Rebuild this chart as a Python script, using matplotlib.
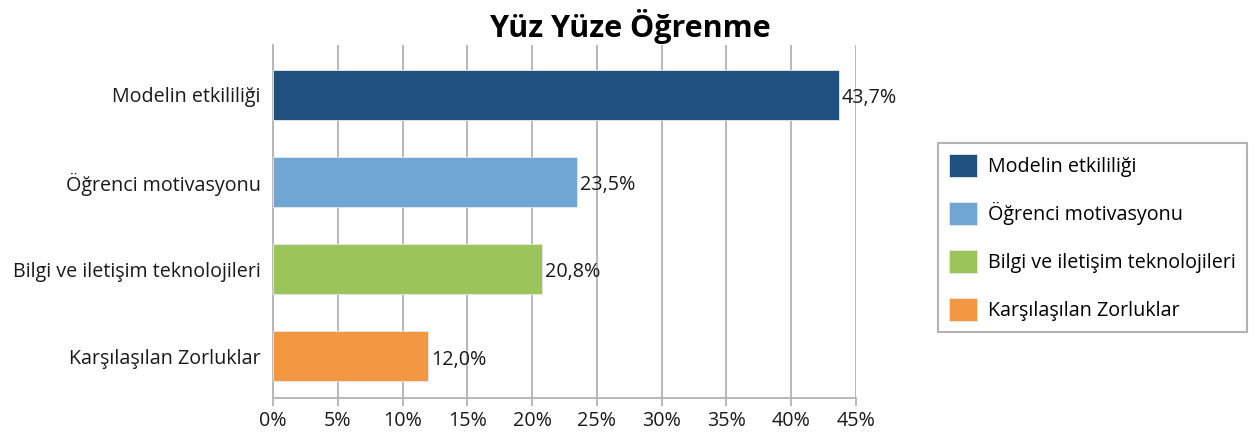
import matplotlib
matplotlib.use("Agg")
import matplotlib.pyplot as plt
from matplotlib.patches import Patch

plt.rcParams['font.family'] = ['Open Sans', 'DejaVu Sans']

categories = ["Modelin etkililiği", "Öğrenci motivasyonu",
              "Bilgi ve iletişim teknolojileri", "Karşılaşılan Zorluklar"]
values = [43.7, 23.5, 20.8, 12.0]
value_labels = ["43,7%", "23,5%", "20,8%", "12,0%"]
colors = ["#1F5180", "#6FA6D4", "#9BC55A", "#F39842"]
xticks = [0, 5, 10, 15, 20, 25, 30, 35, 40, 45]
xtick_labels = [f"{t}%" for t in xticks]
title = "Yüz Yüze Öğrenme"

FS = 14.2

fig = plt.figure(figsize=(12.56, 4.32), dpi=100)
ax = fig.add_axes([273/1256, 1-398/432, (856-273)/1256, (398-45)/432])

ypos = list(range(len(categories)))
ax.barh(ypos, values, height=0.575, color=colors, edgecolor="#e8e8e8", linewidth=0.6, zorder=3)
for y, v, lab in zip(ypos, values, value_labels):
    ax.text(v + 0.2, y + 0.04, lab, va="center", ha="left", fontsize=FS, color="#1a1a1a", zorder=4)

ax.set_ylim(3.48, -0.57)
ax.set_xlim(0, 45)
ax.set_yticks(ypos)
ax.set_yticklabels(categories, fontsize=FS, color="#1a1a1a")
ax.set_xticks(xticks)
ax.set_xticklabels(xtick_labels, fontsize=FS, color="#1a1a1a")
ax.tick_params(axis="y", length=0, pad=9)
ax.tick_params(axis="x", length=6, width=1.3, color="#b3b3b3", pad=3)
ax.xaxis.grid(True, color="#b3b3b3", linewidth=1.3, zorder=0)
for s in ["top", "right"]:
    ax.spines[s].set_visible(False)
ax.spines["left"].set_color("#b3b3b3")
ax.spines["left"].set_linewidth(1.3)
ax.spines["bottom"].set_color("#b3b3b3")
ax.spines["bottom"].set_linewidth(1.3)

fig.text(630/1256, 1-26/432, title, ha="center", va="center", fontsize=22, fontweight="bold")

handles = [Patch(facecolor=c, edgecolor="#e8e8e8", linewidth=0.6) for c in colors]
leg = fig.legend(handles, categories, loc="upper left",
                 bbox_to_anchor=(938/1256, 1-143/432), fontsize=FS,
                 frameon=True, fancybox=False, edgecolor="#a0a0a0",
                 handlelength=1.45, handleheight=1.45, labelspacing=1.25,
                 borderpad=0.55, handletextpad=0.55, borderaxespad=0)
leg.get_frame().set_linewidth(1.5)

fig.savefig("out.png", dpi=100)
